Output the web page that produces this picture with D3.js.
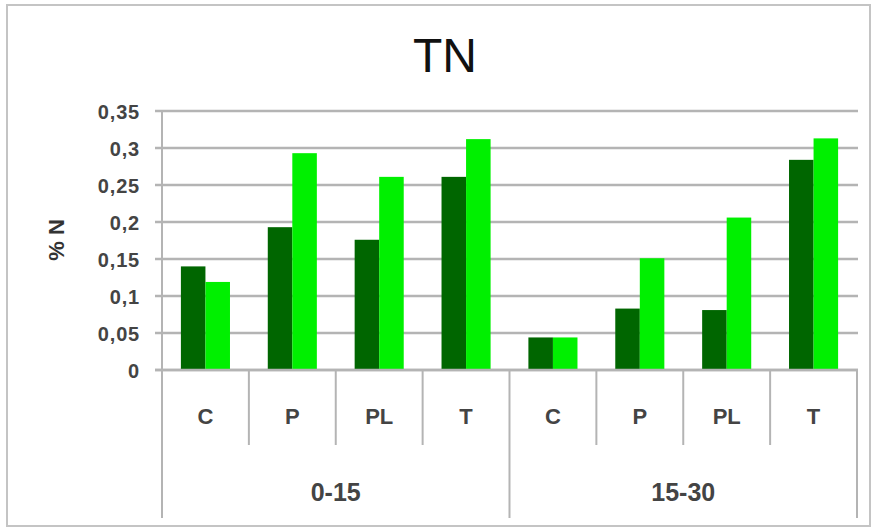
<!DOCTYPE html>
<html>
<head>
<meta charset="utf-8">
<script src="https://cdn.jsdelivr.net/npm/d3@7/dist/d3.min.js"></script>
<style>
  html, body { margin: 0; padding: 0; background: #fff; }
  svg { display: block; font-family: "Liberation Sans", Arial, sans-serif; }
</style>
</head>
<body>
<svg id="chart" width="877" height="531"></svg>
<script>
// ---- data ----
const groups = ["0-15", "15-30"];
const categories = ["C", "P", "PL", "T"];
const seriesNames = ["s1", "s2"];
const series1 = [0.140, 0.193, 0.176, 0.261, 0.044, 0.083, 0.081, 0.284];
const series2 = [0.119, 0.293, 0.261, 0.312, 0.044, 0.151, 0.206, 0.313];
const yTicks = [0, 0.05, 0.1, 0.15, 0.2, 0.25, 0.3, 0.35];
const yTickLabels = ["0", "0,05", "0,1", "0,15", "0,2", "0,25", "0,3", "0,35"];
const title = "TN";
const yTitle = "% N";

// ---- layout ----
const svg = d3.select("#chart");
const plot = { left: 162, right: 857, top: 111, bottom: 370 };
const colors = ["#006600", "#00f000"];
const gridColor = "#b4b4b4";
const textColor = "#444";

// frame
svg.append("rect").attr("x", 7).attr("y", 5).attr("width", 863).attr("height", 521)
  .attr("fill", "#fff").attr("stroke", "#c4c4c4").attr("stroke-width", 2);

const keys = [];
groups.forEach(g => categories.forEach(c => keys.push(g + "|" + c)));

const x = d3.scaleBand().domain(keys).range([plot.left, plot.right]).paddingInner(0).paddingOuter(0);
const xs = d3.scaleBand().domain(seriesNames).range([0, x.bandwidth()]).paddingInner(0).paddingOuter(0.77);
const y = d3.scaleLinear().domain([0, 0.35]).range([plot.bottom, plot.top]);

// gridlines
svg.append("g").selectAll("line").data(yTicks).join("line")
  .attr("x1", plot.left - 7).attr("x2", plot.right + 1)
  .attr("y1", d => y(d)).attr("y2", d => y(d))
  .attr("stroke", gridColor).attr("stroke-width", 2.5);

// y axis
const yAxis = d3.axisLeft(y).tickValues(yTicks)
  .tickFormat((d, i) => yTickLabels[i]).tickSize(0).tickPadding(22);
const ya = svg.append("g").attr("transform", `translate(${plot.left},0)`).call(yAxis);
ya.select(".domain").remove();
ya.selectAll("text").attr("font-size", 20).attr("fill", textColor)
  .attr("font-family", "'Liberation Sans', Arial, sans-serif").attr("font-weight", "bold")
  .attr("letter-spacing", "0.8px").attr("dy", "0.36em");
svg.append("line").attr("x1", plot.left).attr("x2", plot.left)
  .attr("y1", plot.top).attr("y2", plot.bottom)
  .attr("stroke", gridColor).attr("stroke-width", 2);

// bars
const data = keys.map((k, i) => ({ key: k, vals: [series1[i], series2[i]] }));
const bars = svg.append("g");
data.forEach(d => {
  d.vals.forEach((v, j) => {
    bars.append("rect")
      .attr("x", x(d.key) + xs(seriesNames[j]))
      .attr("width", xs.bandwidth())
      .attr("y", y(v))
      .attr("height", y(0) - y(v))
      .attr("fill", colors[j]);
  });
});

// baseline
svg.append("line").attr("x1", plot.left - 7).attr("x2", plot.right + 1)
  .attr("y1", y(0)).attr("y2", y(0)).attr("stroke", gridColor).attr("stroke-width", 2.5);

// category dividers & labels
const catLineBottom = 445, groupLineBottom = 518;
const bounds = keys.map(k => x(k)).concat([plot.right]);
svg.append("g").selectAll("line").data(bounds).join("line")
  .attr("x1", d => d).attr("x2", d => d)
  .attr("y1", plot.bottom)
  .attr("y2", (d, i) => (i % categories.length === 0) ? groupLineBottom : catLineBottom)
  .attr("stroke", gridColor).attr("stroke-width", 2);

svg.append("g").selectAll("text").data(keys).join("text")
  .attr("x", d => x(d) + x.bandwidth() / 2).attr("y", 424)
  .attr("text-anchor", "middle").attr("font-size", 22).attr("font-weight", "bold")
  .attr("fill", textColor).text(d => d.split("|")[1]);

svg.append("g").selectAll("text").data(groups).join("text")
  .attr("x", g => {
    const first = x(g + "|" + categories[0]);
    const last = x(g + "|" + categories[categories.length - 1]) + x.bandwidth();
    return (first + last) / 2;
  })
  .attr("y", 501).attr("text-anchor", "middle").attr("font-size", 25).attr("font-weight", "bold")
  .attr("fill", textColor).text(g => g);

// titles
svg.append("text").attr("x", 445).attr("y", 72).attr("text-anchor", "middle")
  .attr("font-size", 48).attr("fill", "#111").text(title);

svg.append("text").attr("transform", "translate(64,240) rotate(-90)")
  .attr("text-anchor", "middle").attr("font-size", 22).attr("font-weight", "bold")
  .attr("fill", "#333").text(yTitle);
</script>
</body>
</html>
